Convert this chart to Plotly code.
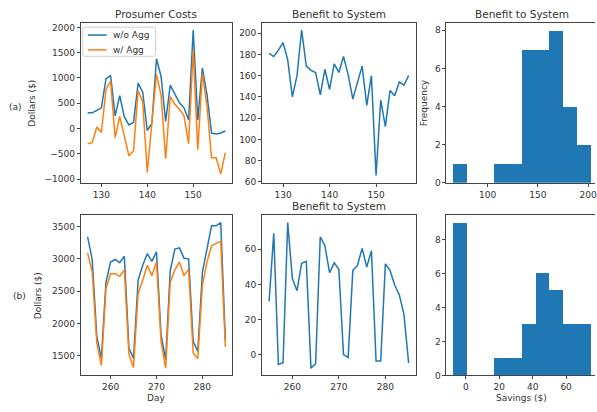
import numpy as np
import plotly.graph_objects as go

# ---------------- data ----------------
days_a = list(range(127, 158))
wo_agg_a = [310, 310, 360, 410, 980, 1050, 250, 650, 230, 70, 120, 900, 720, -40, 100,
            1380, 1030, 140, 860, 670, 510, 410, 170, 1950, 170, 1200, 670, -90, -110, -90, -50]
w_agg_a = [-300, -280, 30, -80, 770, 940, -180, 240, -150, -540, -440, 750, 530, -870, 120,
           1070, 660, -600, 630, 480, 380, 250, -300, 1550, -420, 1090, 450, -580, -580, -900, -480]
benefit_a = [181, 178, 184, 191, 175, 140, 160, 203, 169, 165, 163, 142, 166, 147, 171, 163,
             178, 161, 138, 153, 169, 132, 160, 66, 137, 112, 146, 141, 154, 151, 160]

days_b = list(range(255, 286))
wo_agg_b = [3340, 2990, 1800, 1460, 2640, 2950, 2990, 2940, 3040, 1620, 1460, 2670, 2900, 3080,
            2960, 3110, 1820, 1440, 2820, 3150, 3170, 3010, 3000, 1720, 1570, 2790, 3150, 3510,
            3510, 3560, 1750]
w_agg_b = [3090, 2800, 1700, 1350, 2540, 2770, 2770, 2730, 2830, 1520, 1320, 2460, 2670, 2900,
           2740, 2950, 1720, 1310, 2640, 2830, 2950, 2740, 2840, 1540, 1460, 2590, 2950, 3200,
           3240, 3270, 1640]
benefit_b = [30.3, 68.9, -5.4, -4.5, 75, 43.3, 36.4, 52, 53.1, -7.5, -5, 67, 61.9, 46.6, 52.2,
             48.5, 0.2, -1.5, 47.9, 50.7, 60.4, 49.8, 59.1, -3.5, -3.5, 51.6, 47.9, 39.6, 34,
             22.8, -4.6]

series_names = ["w/o Agg", "w/ Agg"]

BLUE = "#1f77b4"
ORANGE = "#ff7f0e"
FONT = "DejaVu Sans"
TXT = "#333333"

W, H = 597, 412
def fx(px):
    return px / W
def fy(py):
    return 1 - py / H

cols = [(81, 233), (263, 417), (448, 597)]
rows = [(23, 185), (218, 380)]

fig = go.Figure()

def pad(lo, hi, m=0.05):
    r = hi - lo
    return [lo - m * r, hi + m * r]

def cut(rng, frac=0.98):
    return [rng[0], rng[0] + frac * (rng[1] - rng[0])]

# row a lines
fig.add_trace(go.Scatter(x=days_a, y=wo_agg_a, mode="lines", name=series_names[0],
                         line=dict(color=BLUE, width=1.5), xaxis="x", yaxis="y"))
fig.add_trace(go.Scatter(x=days_a, y=w_agg_a, mode="lines", name=series_names[1],
                         line=dict(color=ORANGE, width=1.5), xaxis="x", yaxis="y"))
fig.add_trace(go.Scatter(x=days_a, y=benefit_a, mode="lines",
                         line=dict(color=BLUE, width=1.5), xaxis="x2", yaxis="y2"))
cnt_a, edges_a = np.histogram(benefit_a, bins=10)
fig.add_trace(go.Bar(x=(edges_a[:-1] + edges_a[1:]) / 2, y=cnt_a, width=np.diff(edges_a),
                     marker=dict(color=BLUE, line=dict(width=0)),
                     xaxis="x3", yaxis="y3"))
# row b
fig.add_trace(go.Scatter(x=days_b, y=wo_agg_b, mode="lines",
                         line=dict(color=BLUE, width=1.5), xaxis="x4", yaxis="y4"))
fig.add_trace(go.Scatter(x=days_b, y=w_agg_b, mode="lines",
                         line=dict(color=ORANGE, width=1.5), xaxis="x4", yaxis="y4"))
fig.add_trace(go.Scatter(x=days_b, y=benefit_b, mode="lines",
                         line=dict(color=BLUE, width=1.5), xaxis="x5", yaxis="y5"))
cnt_b, edges_b = np.histogram(benefit_b, bins=10)
fig.add_trace(go.Bar(x=(edges_b[:-1] + edges_b[1:]) / 2, y=cnt_b, width=np.diff(edges_b),
                     marker=dict(color=BLUE, line=dict(width=0)),
                     xaxis="x6", yaxis="y6"))

axis_common = dict(showline=True, linecolor="#444444", linewidth=1, mirror=True,
                   ticks="outside", ticklen=3, tickcolor="#444444", showgrid=False,
                   zeroline=False, tickfont=dict(family=FONT, size=9, color=TXT))

specs = [
    # (axis idx, col, row, xrange, xticks, yrange, yticks)
    (1, 0, 0, pad(127, 157), [130, 140, 150], pad(-930, 1950), list(range(-1000, 2001, 500))),
    (2, 1, 0, pad(127, 157), [130, 140, 150], pad(66, 203), list(range(60, 201, 20))),
    (3, 2, 0, cut(pad(edges_a[0], edges_a[-1])), [100, 150, 200], [0, cnt_a.max() * 1.05], [0, 2, 4, 6, 8]),
    (4, 0, 1, pad(255, 285), [260, 270, 280], pad(min(w_agg_b), max(wo_agg_b)), list(range(1500, 3501, 500))),
    (5, 1, 1, pad(255, 285), [260, 270, 280], pad(min(benefit_b), max(benefit_b)), [0, 20, 40, 60]),
    (6, 2, 1, cut(pad(edges_b[0], edges_b[-1])), [0, 20, 40, 60], [0, cnt_b.max() * 1.05], [0, 2, 4, 6, 8]),
]
layout = {}
for i, c, r, xr, xt, yr, yt in specs:
    sfx = "" if i == 1 else str(i)
    x0, x1 = cols[c]
    y0, y1 = rows[r]
    layout["xaxis" + sfx] = dict(axis_common, domain=[fx(x0), fx(x1)], range=xr,
                                 tickvals=xt, anchor="y" + sfx, ticklabeloverflow="allow")
    layout["yaxis" + sfx] = dict(axis_common, domain=[fy(y1), fy(y0)], range=yr,
                                 tickvals=yt, anchor="x" + sfx,
                                 mirror=(c != 2))
fig.update_layout(**layout)

title_font = dict(family=FONT, size=10.5, color=TXT)
lab_font = dict(family=FONT, size=9, color=TXT)
ann = []
def add_text(text, x, y, font, angle=0, xanchor="center"):
    ann.append(dict(text=text, x=fx(x), y=fy(y), xref="paper", yref="paper",
                    showarrow=False, font=font, textangle=angle,
                    xanchor=xanchor, yanchor="middle"))

add_text("Prosumer Costs", (cols[0][0] + cols[0][1]) / 2, 14, title_font)
add_text("Benefit to System", (cols[1][0] + cols[1][1]) / 2, 14, title_font)
add_text("Benefit to System", 524, 14, title_font)
add_text("Benefit to System", (cols[1][0] + cols[1][1]) / 2, 209, title_font)
add_text("Dollars ($)", 32, 104, lab_font, -90)
add_text("Dollars ($)", 39, 299, lab_font, -90)
add_text("Frequency", 425, 104, lab_font, -90)
add_text("(a)", 16, 108, lab_font)
add_text("(b)", 20, 300, lab_font)
add_text("Day", (cols[0][0] + cols[0][1]) / 2, 403, lab_font)
add_text("Savings ($)", 523, 403, lab_font)

# legend (drawn manually to match the compact matplotlib legend)
shapes = []
bx0, bx1, by0, by1, rad = fx(83), fx(156), fy(27.5), fy(57), 2
rx, ry = rad / W, rad / H
shapes.append(dict(type="path", xref="paper", yref="paper",
                   path=(f"M {bx0+rx},{by0} L {bx1-rx},{by0} Q {bx1},{by0} {bx1},{by0-ry} "
                         f"L {bx1},{by1+ry} Q {bx1},{by1} {bx1-rx},{by1} "
                         f"L {bx0+rx},{by1} Q {bx0},{by1} {bx0},{by1+ry} "
                         f"L {bx0},{by0-ry} Q {bx0},{by0} {bx0+rx},{by0} Z"),
                   line=dict(color="#d0d0d0", width=1), fillcolor="rgba(255,255,255,0.8)",
                   layer="above"))
for k, (nm, colr, yy) in enumerate(zip(series_names, [BLUE, ORANGE], [35.5, 50.5])):
    shapes.append(dict(type="line", xref="paper", yref="paper",
                       x0=fx(88), x1=fx(107), y0=fy(yy), y1=fy(yy),
                       line=dict(color=colr, width=1.5), layer="above"))
    add_text(nm, 111, yy, lab_font, xanchor="left")

fig.update_layout(
    width=W, height=H, margin=dict(l=0, r=0, t=0, b=0),
    paper_bgcolor="white", plot_bgcolor="white",
    annotations=ann, shapes=shapes, bargap=0, showlegend=False,
    font=dict(family=FONT, color=TXT),
)

fig.write_html("out.html", config={"displayModeBar": False},
               post_script="document.body.style.margin='0';document.body.style.overflow='hidden';")
